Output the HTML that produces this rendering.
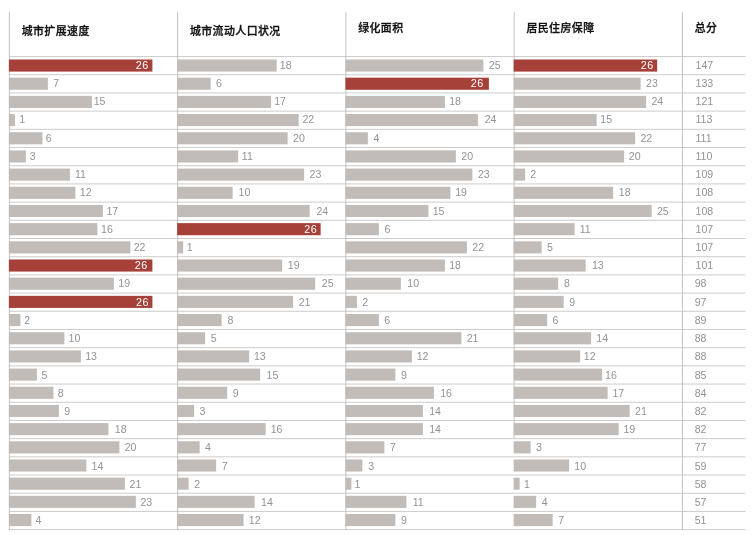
<!DOCTYPE html>
<html lang="zh-CN">
<head>
<meta charset="utf-8">
<title>城市指标排名</title>
<style>
html,body{margin:0;padding:0;background:#fff;}
body{width:754px;height:535px;overflow:hidden;}
svg{display:block;}
.h{font-family:"Liberation Sans","Noto Sans CJK SC",sans-serif;font-weight:500;font-size:10.9px;letter-spacing:0.45px;fill:#111;stroke:#111;stroke-width:0.3px;}
.n{font-family:"Liberation Sans","Noto Sans CJK SC",sans-serif;font-size:10.6px;fill:#939393;}
.w{font-family:"Liberation Sans","Noto Sans CJK SC",sans-serif;font-size:10.8px;letter-spacing:0.45px;fill:#fff;text-anchor:end;}
</style>
</head>
<body>
<svg width="754" height="535" viewBox="0 0 754 535">
<rect x="0" y="0" width="754" height="535" fill="#ffffff"/>
<g stroke="#bfbfbf" stroke-width="0.8" fill="none">
<line x1="9.4" y1="56.55" x2="745.5" y2="56.55"/>
<line x1="9.4" y1="74.75" x2="745.5" y2="74.75"/>
<line x1="9.4" y1="92.94" x2="745.5" y2="92.94"/>
<line x1="9.4" y1="111.13" x2="745.5" y2="111.13"/>
<line x1="9.4" y1="129.33" x2="745.5" y2="129.33"/>
<line x1="9.4" y1="147.52" x2="745.5" y2="147.52"/>
<line x1="9.4" y1="165.72" x2="745.5" y2="165.72"/>
<line x1="9.4" y1="183.92" x2="745.5" y2="183.92"/>
<line x1="9.4" y1="202.11" x2="745.5" y2="202.11"/>
<line x1="9.4" y1="220.31" x2="745.5" y2="220.31"/>
<line x1="9.4" y1="238.50" x2="745.5" y2="238.50"/>
<line x1="9.4" y1="256.69" x2="745.5" y2="256.69"/>
<line x1="9.4" y1="274.89" x2="745.5" y2="274.89"/>
<line x1="9.4" y1="293.08" x2="745.5" y2="293.08"/>
<line x1="9.4" y1="311.28" x2="745.5" y2="311.28"/>
<line x1="9.4" y1="329.48" x2="745.5" y2="329.48"/>
<line x1="9.4" y1="347.67" x2="745.5" y2="347.67"/>
<line x1="9.4" y1="365.87" x2="745.5" y2="365.87"/>
<line x1="9.4" y1="384.06" x2="745.5" y2="384.06"/>
<line x1="9.4" y1="402.25" x2="745.5" y2="402.25"/>
<line x1="9.4" y1="420.45" x2="745.5" y2="420.45"/>
<line x1="9.4" y1="438.65" x2="745.5" y2="438.65"/>
<line x1="9.4" y1="456.84" x2="745.5" y2="456.84"/>
<line x1="9.4" y1="475.04" x2="745.5" y2="475.04"/>
<line x1="9.4" y1="493.23" x2="745.5" y2="493.23"/>
<line x1="9.4" y1="511.43" x2="745.5" y2="511.43"/>
<line x1="9.4" y1="529.62" x2="745.5" y2="529.62"/>
</g>
<g stroke="#b4b4b4" stroke-width="0.8" fill="none">
<line x1="9.40" y1="11.8" x2="9.40" y2="530.12"/>
<line x1="177.65" y1="11.8" x2="177.65" y2="530.12"/>
<line x1="345.90" y1="11.8" x2="345.90" y2="530.12"/>
<line x1="514.15" y1="11.8" x2="514.15" y2="438.65"/>
<line x1="682.40" y1="11.8" x2="682.40" y2="530.12"/>
</g>
<g>
<rect x="8.90" y="59.50" width="143.50" height="12.1" fill="#a6413a"/><text class="w" x="148.66" y="68.75">26</text>
<rect x="8.90" y="77.68" width="39.00" height="12.1" fill="#c1bcb8"/><text class="n" x="53.33" y="86.97">7</text>
<rect x="8.90" y="95.86" width="83.00" height="12.1" fill="#c1bcb8"/><text class="n" x="93.73" y="105.20">15</text>
<rect x="8.90" y="114.04" width="6.00" height="12.1" fill="#c1bcb8"/><text class="n" x="19.13" y="123.43">1</text>
<rect x="8.90" y="132.22" width="33.50" height="12.1" fill="#c1bcb8"/><text class="n" x="45.68" y="141.65">6</text>
<rect x="8.90" y="150.40" width="17.00" height="12.1" fill="#c1bcb8"/><text class="n" x="29.71" y="159.88">3</text>
<rect x="8.90" y="168.58" width="61.00" height="12.1" fill="#c1bcb8"/><text class="n" x="74.94" y="178.10">11</text>
<rect x="8.90" y="186.76" width="66.50" height="12.1" fill="#c1bcb8"/><text class="n" x="79.77" y="196.33">12</text>
<rect x="8.90" y="204.94" width="94.00" height="12.1" fill="#c1bcb8"/><text class="n" x="106.46" y="214.55">17</text>
<rect x="8.90" y="223.12" width="88.50" height="12.1" fill="#c1bcb8"/><text class="n" x="101.10" y="232.78">16</text>
<rect x="8.90" y="241.30" width="121.50" height="12.1" fill="#c1bcb8"/><text class="n" x="133.68" y="251.00">22</text>
<rect x="8.90" y="259.48" width="143.50" height="12.1" fill="#a6413a"/><text class="w" x="147.74" y="269.23">26</text>
<rect x="8.90" y="277.66" width="105.00" height="12.1" fill="#c1bcb8"/><text class="n" x="118.27" y="287.45">19</text>
<rect x="8.90" y="295.84" width="143.50" height="12.1" fill="#a6413a"/><text class="w" x="148.94" y="305.68">26</text>
<rect x="8.90" y="314.02" width="11.50" height="12.1" fill="#c1bcb8"/><text class="n" x="24.35" y="323.90">2</text>
<rect x="8.90" y="332.20" width="55.50" height="12.1" fill="#c1bcb8"/><text class="n" x="68.49" y="342.12">10</text>
<rect x="8.90" y="350.38" width="72.00" height="12.1" fill="#c1bcb8"/><text class="n" x="85.13" y="360.35">13</text>
<rect x="8.90" y="368.56" width="28.00" height="12.1" fill="#c1bcb8"/><text class="n" x="41.38" y="378.58">5</text>
<rect x="8.90" y="386.74" width="44.50" height="12.1" fill="#c1bcb8"/><text class="n" x="57.74" y="396.80">8</text>
<rect x="8.90" y="404.92" width="50.00" height="12.1" fill="#c1bcb8"/><text class="n" x="64.33" y="415.03">9</text>
<rect x="8.90" y="423.10" width="99.50" height="12.1" fill="#c1bcb8"/><text class="n" x="114.78" y="433.25">18</text>
<rect x="8.90" y="441.28" width="110.50" height="12.1" fill="#c1bcb8"/><text class="n" x="124.69" y="451.48">20</text>
<rect x="8.90" y="459.46" width="77.50" height="12.1" fill="#c1bcb8"/><text class="n" x="91.58" y="469.70">14</text>
<rect x="8.90" y="477.64" width="116.00" height="12.1" fill="#c1bcb8"/><text class="n" x="129.52" y="487.93">21</text>
<rect x="8.90" y="495.82" width="127.00" height="12.1" fill="#c1bcb8"/><text class="n" x="140.38" y="506.15">23</text>
<rect x="8.90" y="514.00" width="22.50" height="12.1" fill="#c1bcb8"/><text class="n" x="35.46" y="524.38">4</text>
</g>
<g>
<rect x="177.15" y="59.50" width="99.50" height="12.1" fill="#c1bcb8"/><text class="n" x="279.82" y="68.75">18</text>
<rect x="177.15" y="77.68" width="33.50" height="12.1" fill="#c1bcb8"/><text class="n" x="216.08" y="86.97">6</text>
<rect x="177.15" y="95.86" width="94.00" height="12.1" fill="#c1bcb8"/><text class="n" x="274.18" y="105.20">17</text>
<rect x="177.15" y="114.04" width="121.50" height="12.1" fill="#c1bcb8"/><text class="n" x="302.46" y="123.43">22</text>
<rect x="177.15" y="132.22" width="110.50" height="12.1" fill="#c1bcb8"/><text class="n" x="293.08" y="141.65">20</text>
<rect x="177.15" y="150.40" width="61.00" height="12.1" fill="#c1bcb8"/><text class="n" x="241.85" y="159.88">11</text>
<rect x="177.15" y="168.58" width="127.00" height="12.1" fill="#c1bcb8"/><text class="n" x="309.58" y="178.10">23</text>
<rect x="177.15" y="186.76" width="55.50" height="12.1" fill="#c1bcb8"/><text class="n" x="238.50" y="196.33">10</text>
<rect x="177.15" y="204.94" width="132.50" height="12.1" fill="#c1bcb8"/><text class="n" x="316.42" y="214.55">24</text>
<rect x="177.15" y="223.12" width="143.50" height="12.1" fill="#a6413a"/><text class="w" x="317.19" y="232.78">26</text>
<rect x="177.15" y="241.30" width="6.00" height="12.1" fill="#c1bcb8"/><text class="n" x="186.71" y="251.00">1</text>
<rect x="177.15" y="259.48" width="105.00" height="12.1" fill="#c1bcb8"/><text class="n" x="287.86" y="269.23">19</text>
<rect x="177.15" y="277.66" width="138.00" height="12.1" fill="#c1bcb8"/><text class="n" x="321.78" y="287.45">25</text>
<rect x="177.15" y="295.84" width="116.00" height="12.1" fill="#c1bcb8"/><text class="n" x="298.72" y="305.68">21</text>
<rect x="177.15" y="314.02" width="44.50" height="12.1" fill="#c1bcb8"/><text class="n" x="227.47" y="323.90">8</text>
<rect x="177.15" y="332.20" width="28.00" height="12.1" fill="#c1bcb8"/><text class="n" x="210.72" y="342.12">5</text>
<rect x="177.15" y="350.38" width="72.00" height="12.1" fill="#c1bcb8"/><text class="n" x="253.91" y="360.35">13</text>
<rect x="177.15" y="368.56" width="83.00" height="12.1" fill="#c1bcb8"/><text class="n" x="266.53" y="378.58">15</text>
<rect x="177.15" y="386.74" width="50.00" height="12.1" fill="#c1bcb8"/><text class="n" x="232.72" y="396.80">9</text>
<rect x="177.15" y="404.92" width="17.00" height="12.1" fill="#c1bcb8"/><text class="n" x="199.58" y="415.03">3</text>
<rect x="177.15" y="423.10" width="88.50" height="12.1" fill="#c1bcb8"/><text class="n" x="270.69" y="433.25">16</text>
<rect x="177.15" y="441.28" width="22.50" height="12.1" fill="#c1bcb8"/><text class="n" x="204.91" y="451.48">4</text>
<rect x="177.15" y="459.46" width="39.00" height="12.1" fill="#c1bcb8"/><text class="n" x="221.72" y="469.70">7</text>
<rect x="177.15" y="477.64" width="11.50" height="12.1" fill="#c1bcb8"/><text class="n" x="194.22" y="487.93">2</text>
<rect x="177.15" y="495.82" width="77.50" height="12.1" fill="#c1bcb8"/><text class="n" x="261.03" y="506.15">14</text>
<rect x="177.15" y="514.00" width="66.50" height="12.1" fill="#c1bcb8"/><text class="n" x="248.83" y="524.38">12</text>
</g>
<g>
<rect x="345.40" y="59.50" width="138.00" height="12.1" fill="#c1bcb8"/><text class="n" x="488.83" y="68.75">25</text>
<rect x="345.40" y="77.68" width="143.50" height="12.1" fill="#a6413a"/><text class="w" x="483.68" y="86.97">26</text>
<rect x="345.40" y="95.86" width="99.50" height="12.1" fill="#c1bcb8"/><text class="n" x="449.13" y="105.20">18</text>
<rect x="345.40" y="114.04" width="132.50" height="12.1" fill="#c1bcb8"/><text class="n" x="484.67" y="123.43">24</text>
<rect x="345.40" y="132.22" width="22.50" height="12.1" fill="#c1bcb8"/><text class="n" x="373.44" y="141.65">4</text>
<rect x="345.40" y="150.40" width="110.50" height="12.1" fill="#c1bcb8"/><text class="n" x="461.33" y="159.88">20</text>
<rect x="345.40" y="168.58" width="127.00" height="12.1" fill="#c1bcb8"/><text class="n" x="477.97" y="178.10">23</text>
<rect x="345.40" y="186.76" width="105.00" height="12.1" fill="#c1bcb8"/><text class="n" x="455.16" y="196.33">19</text>
<rect x="345.40" y="204.94" width="83.00" height="12.1" fill="#c1bcb8"/><text class="n" x="432.63" y="214.55">15</text>
<rect x="345.40" y="223.12" width="33.50" height="12.1" fill="#c1bcb8"/><text class="n" x="384.47" y="232.78">6</text>
<rect x="345.40" y="241.30" width="121.50" height="12.1" fill="#c1bcb8"/><text class="n" x="472.33" y="251.00">22</text>
<rect x="345.40" y="259.48" width="99.50" height="12.1" fill="#c1bcb8"/><text class="n" x="449.13" y="269.23">18</text>
<rect x="345.40" y="277.66" width="55.50" height="12.1" fill="#c1bcb8"/><text class="n" x="407.28" y="287.45">10</text>
<rect x="345.40" y="295.84" width="11.50" height="12.1" fill="#c1bcb8"/><text class="n" x="362.33" y="305.68">2</text>
<rect x="345.40" y="314.02" width="33.50" height="12.1" fill="#c1bcb8"/><text class="n" x="384.33" y="323.90">6</text>
<rect x="345.40" y="332.20" width="116.00" height="12.1" fill="#c1bcb8"/><text class="n" x="466.69" y="342.12">21</text>
<rect x="345.40" y="350.38" width="66.50" height="12.1" fill="#c1bcb8"/><text class="n" x="416.66" y="360.35">12</text>
<rect x="345.40" y="368.56" width="50.00" height="12.1" fill="#c1bcb8"/><text class="n" x="400.97" y="378.58">9</text>
<rect x="345.40" y="386.74" width="88.50" height="12.1" fill="#c1bcb8"/><text class="n" x="440.14" y="396.80">16</text>
<rect x="345.40" y="404.92" width="77.50" height="12.1" fill="#c1bcb8"/><text class="n" x="429.14" y="415.03">14</text>
<rect x="345.40" y="423.10" width="77.50" height="12.1" fill="#c1bcb8"/><text class="n" x="429.14" y="433.25">14</text>
<rect x="345.40" y="441.28" width="39.00" height="12.1" fill="#c1bcb8"/><text class="n" x="389.97" y="451.48">7</text>
<rect x="345.40" y="459.46" width="17.00" height="12.1" fill="#c1bcb8"/><text class="n" x="368.22" y="469.70">3</text>
<rect x="345.40" y="477.64" width="6.00" height="12.1" fill="#c1bcb8"/><text class="n" x="354.57" y="487.93">1</text>
<rect x="345.40" y="495.82" width="61.00" height="12.1" fill="#c1bcb8"/><text class="n" x="412.64" y="506.15">11</text>
<rect x="345.40" y="514.00" width="50.00" height="12.1" fill="#c1bcb8"/><text class="n" x="400.97" y="524.38">9</text>
</g>
<g>
<rect x="513.65" y="59.50" width="143.50" height="12.1" fill="#a6413a"/><text class="w" x="653.69" y="68.75">26</text>
<rect x="513.65" y="77.68" width="127.00" height="12.1" fill="#c1bcb8"/><text class="n" x="646.08" y="86.97">23</text>
<rect x="513.65" y="95.86" width="132.50" height="12.1" fill="#c1bcb8"/><text class="n" x="651.44" y="105.20">24</text>
<rect x="513.65" y="114.04" width="83.00" height="12.1" fill="#c1bcb8"/><text class="n" x="600.35" y="123.43">15</text>
<rect x="513.65" y="132.22" width="121.50" height="12.1" fill="#c1bcb8"/><text class="n" x="640.44" y="141.65">22</text>
<rect x="513.65" y="150.40" width="110.50" height="12.1" fill="#c1bcb8"/><text class="n" x="628.77" y="159.88">20</text>
<rect x="513.65" y="168.58" width="11.50" height="12.1" fill="#c1bcb8"/><text class="n" x="530.16" y="178.10">2</text>
<rect x="513.65" y="186.76" width="99.50" height="12.1" fill="#c1bcb8"/><text class="n" x="618.86" y="196.33">18</text>
<rect x="513.65" y="204.94" width="138.00" height="12.1" fill="#c1bcb8"/><text class="n" x="656.94" y="214.55">25</text>
<rect x="513.65" y="223.12" width="61.00" height="12.1" fill="#c1bcb8"/><text class="n" x="579.69" y="232.78">11</text>
<rect x="513.65" y="241.30" width="28.00" height="12.1" fill="#c1bcb8"/><text class="n" x="547.08" y="251.00">5</text>
<rect x="513.65" y="259.48" width="72.00" height="12.1" fill="#c1bcb8"/><text class="n" x="591.89" y="269.23">13</text>
<rect x="513.65" y="277.66" width="44.50" height="12.1" fill="#c1bcb8"/><text class="n" x="563.97" y="287.45">8</text>
<rect x="513.65" y="295.84" width="50.00" height="12.1" fill="#c1bcb8"/><text class="n" x="569.22" y="305.68">9</text>
<rect x="513.65" y="314.02" width="33.50" height="12.1" fill="#c1bcb8"/><text class="n" x="552.58" y="323.90">6</text>
<rect x="513.65" y="332.20" width="77.50" height="12.1" fill="#c1bcb8"/><text class="n" x="596.33" y="342.12">14</text>
<rect x="513.65" y="350.38" width="66.50" height="12.1" fill="#c1bcb8"/><text class="n" x="583.85" y="360.35">12</text>
<rect x="513.65" y="368.56" width="88.50" height="12.1" fill="#c1bcb8"/><text class="n" x="605.04" y="378.58">16</text>
<rect x="513.65" y="386.74" width="94.00" height="12.1" fill="#c1bcb8"/><text class="n" x="612.41" y="396.80">17</text>
<rect x="513.65" y="404.92" width="116.00" height="12.1" fill="#c1bcb8"/><text class="n" x="635.08" y="415.03">21</text>
<rect x="513.65" y="423.10" width="105.00" height="12.1" fill="#c1bcb8"/><text class="n" x="623.41" y="433.25">19</text>
<rect x="513.65" y="441.28" width="17.00" height="12.1" fill="#c1bcb8"/><text class="n" x="535.94" y="451.48">3</text>
<rect x="513.65" y="459.46" width="55.50" height="12.1" fill="#c1bcb8"/><text class="n" x="574.33" y="469.70">10</text>
<rect x="513.65" y="477.64" width="6.00" height="12.1" fill="#c1bcb8"/><text class="n" x="524.02" y="487.93">1</text>
<rect x="513.65" y="495.82" width="22.50" height="12.1" fill="#c1bcb8"/><text class="n" x="541.83" y="506.15">4</text>
<rect x="513.65" y="514.00" width="39.00" height="12.1" fill="#c1bcb8"/><text class="n" x="558.22" y="524.38">7</text>
</g>
<g>
<text class="n" x="695.50" y="68.75">147</text>
<text class="n" x="695.50" y="86.97">133</text>
<text class="n" x="695.50" y="105.20">121</text>
<text class="n" x="695.50" y="123.43">113</text>
<text class="n" x="695.50" y="141.65">111</text>
<text class="n" x="695.50" y="159.88">110</text>
<text class="n" x="695.50" y="178.10">109</text>
<text class="n" x="695.50" y="196.33">108</text>
<text class="n" x="695.50" y="214.55">108</text>
<text class="n" x="695.50" y="232.78">107</text>
<text class="n" x="695.50" y="251.00">107</text>
<text class="n" x="695.50" y="269.23">101</text>
<text class="n" x="694.70" y="287.45">98</text>
<text class="n" x="694.70" y="305.68">97</text>
<text class="n" x="694.70" y="323.90">89</text>
<text class="n" x="694.70" y="342.12">88</text>
<text class="n" x="694.70" y="360.35">88</text>
<text class="n" x="694.70" y="378.58">85</text>
<text class="n" x="694.70" y="396.80">84</text>
<text class="n" x="694.70" y="415.03">82</text>
<text class="n" x="694.70" y="433.25">82</text>
<text class="n" x="694.70" y="451.48">77</text>
<text class="n" x="694.70" y="469.70">59</text>
<text class="n" x="694.70" y="487.93">58</text>
<text class="n" x="694.70" y="506.15">57</text>
<text class="n" x="694.70" y="524.38">51</text>
</g>
<g>
<text class="h" x="21.70" y="34.75">城市扩展速度</text>
<text class="h" x="189.95" y="34.75">城市流动人口状况</text>
<text class="h" x="358.20" y="32.35">绿化面积</text>
<text class="h" x="526.45" y="32.40">居民住房保障</text>
<text class="h" x="694.70" y="32.35">总分</text>
</g>
</svg>
</body>
</html>
